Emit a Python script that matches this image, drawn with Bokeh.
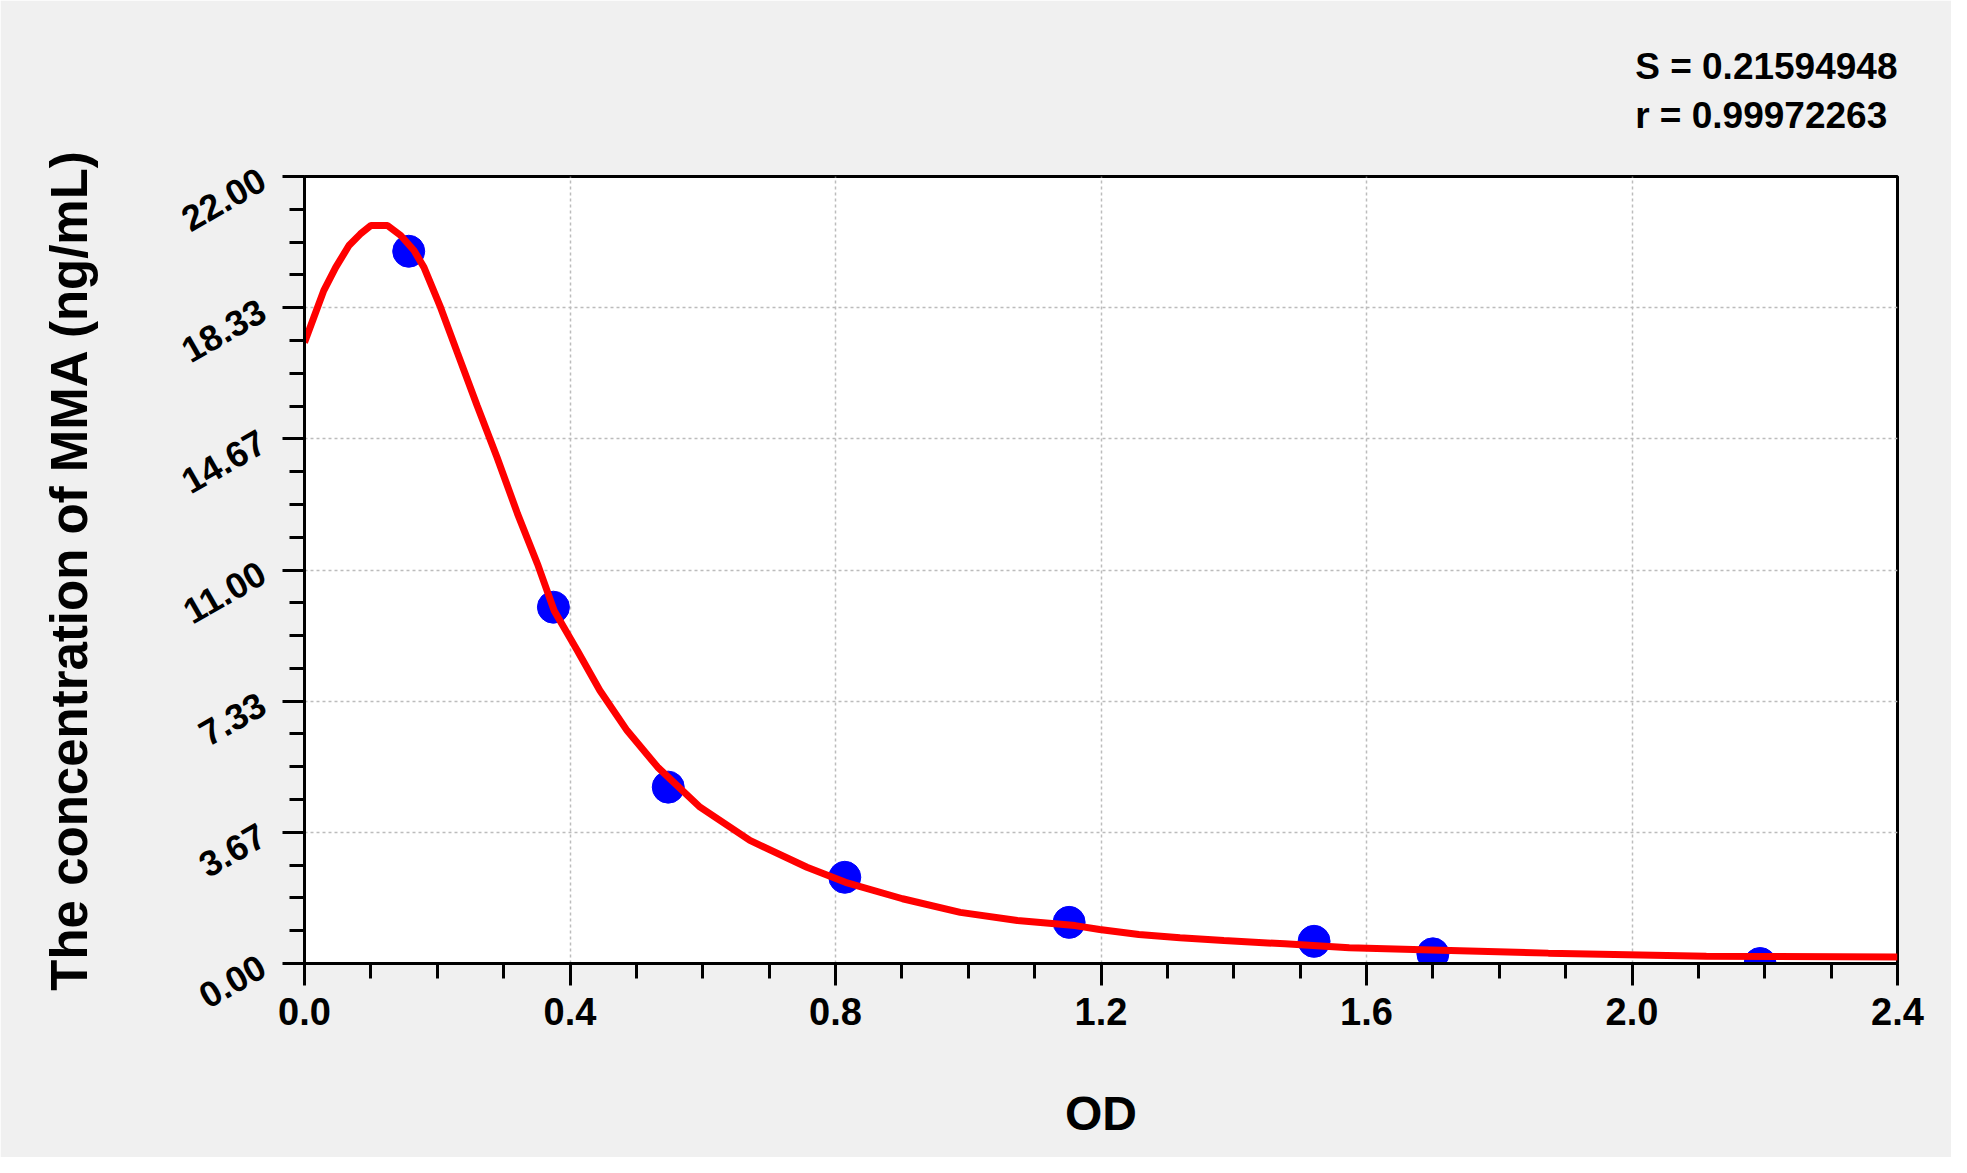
from bokeh.plotting import figure
from bokeh.models import FixedTicker, Title, PrintfTickFormatter
from bokeh.embed import file_html
from bokeh.resources import INLINE

# standard points (OD, concentration)
od = [0.157, 0.375, 0.548, 0.814, 1.152, 1.521, 1.700, 2.193]
conc = [19.91, 9.96, 4.93, 2.41, 1.15, 0.62, 0.27, 0.0]

# fitted curve
fit_od = [0.0, 0.014, 0.029, 0.047, 0.067, 0.084, 0.100, 0.125, 0.145, 0.165,
          0.180, 0.205, 0.230, 0.260, 0.290, 0.321, 0.351, 0.376, 0.411, 0.445,
          0.486, 0.532, 0.596, 0.671, 0.757, 0.815, 0.901, 0.988, 1.074, 1.161,
          1.198, 1.257, 1.319, 1.385, 1.477, 1.574, 1.698, 1.874, 2.112, 2.400]
fit_conc = [17.36, 18.06, 18.81, 19.46, 20.07, 20.39, 20.63, 20.63, 20.35, 19.93,
            19.46, 18.34, 17.09, 15.60, 14.15, 12.57, 11.17, 9.87, 8.75, 7.63,
            6.51, 5.49, 4.37, 3.44, 2.69, 2.27, 1.81, 1.43, 1.20, 1.06,
            0.95, 0.81, 0.72, 0.64, 0.55, 0.44, 0.38, 0.29, 0.20, 0.18]

x_ticks = [0.0, 0.4, 0.8, 1.2, 1.6, 2.0, 2.4]
y_ticks = [0.0, 3.667, 7.333, 11.0, 14.667, 18.333, 22.0]
y_tick_labels = ["0.00", "3.67", "7.33", "11.00", "14.67", "18.33", "22.00"]
stats = ["S = 0.21594948", "r = 0.99972263"]

p = figure(width=1951, height=1157,
           x_range=(0, 2.4), y_range=(0, 22),
           output_backend="svg", toolbar_location=None,
           min_border_left=304, min_border_right=54,
           min_border_top=176, min_border_bottom=194)

p.background_fill_color = "white"
p.border_fill_color = "#f0f0f0"
p.outline_line_color = "black"
p.outline_line_width = 3

# points first, curve on top
p.scatter(od, conc, size=32, color="#0000ff")
p.line(fit_od, fit_conc, line_color="#ff0000", line_width=7)

# x axis
xminor = [i * 0.1 for i in range(25) if i % 4]
p.xaxis.ticker = FixedTicker(ticks=x_ticks, minor_ticks=xminor)
p.xaxis.formatter = PrintfTickFormatter(format="%.1f")
p.xaxis.axis_label = "OD"

# y axis
yminor = [i * 22 / 24 for i in range(25) if i % 4]
p.yaxis.ticker = FixedTicker(ticks=y_ticks, minor_ticks=yminor)
p.yaxis.major_label_overrides = {t: s for t, s in zip(y_ticks, y_tick_labels)}
p.yaxis.major_label_orientation = 0.52
p.yaxis.axis_label = "The concentration of MMA (ng/mL)"

for ax in (p.xaxis, p.yaxis):
    ax.axis_line_width = 3
    ax.major_tick_line_width = 3
    ax.minor_tick_line_width = 3
    ax.major_tick_in = 0
    ax.major_tick_out = 22
    ax.minor_tick_in = 0
    ax.minor_tick_out = 15
    ax.major_label_text_font = "Liberation Sans"
    ax.major_label_text_font_style = "bold"
    ax.major_label_text_color = "black"
    ax.axis_label_text_font = "Liberation Sans"
    ax.axis_label_text_font_style = "bold"
    ax.axis_label_text_color = "black"

p.xaxis.major_label_text_font_size = "38px"
p.xaxis.major_label_standoff = 12
p.xaxis.axis_label_text_font_size = "48px"
p.xaxis.axis_label_standoff = 59
p.yaxis.major_label_text_font_size = "36px"
p.yaxis.major_label_standoff = 20
p.yaxis.axis_label_standoff = 70
p.yaxis.axis_label_text_font_size = "51px"

p.grid.grid_line_color = "#bcbcbc"
p.grid.grid_line_dash = "3 3"
p.grid.grid_line_width = 1.5
p.xgrid.ticker = FixedTicker(ticks=x_ticks)
p.ygrid.ticker = FixedTicker(ticks=y_ticks)

p.add_layout(Title(text="\n".join(stats), align="right",
                   text_font="Liberation Sans", text_font_style="bold",
                   text_font_size="37px", text_color="black",
                   text_line_height=1.2, standoff=80), "above")

open("out.html", "w").write(file_html(p, INLINE))
